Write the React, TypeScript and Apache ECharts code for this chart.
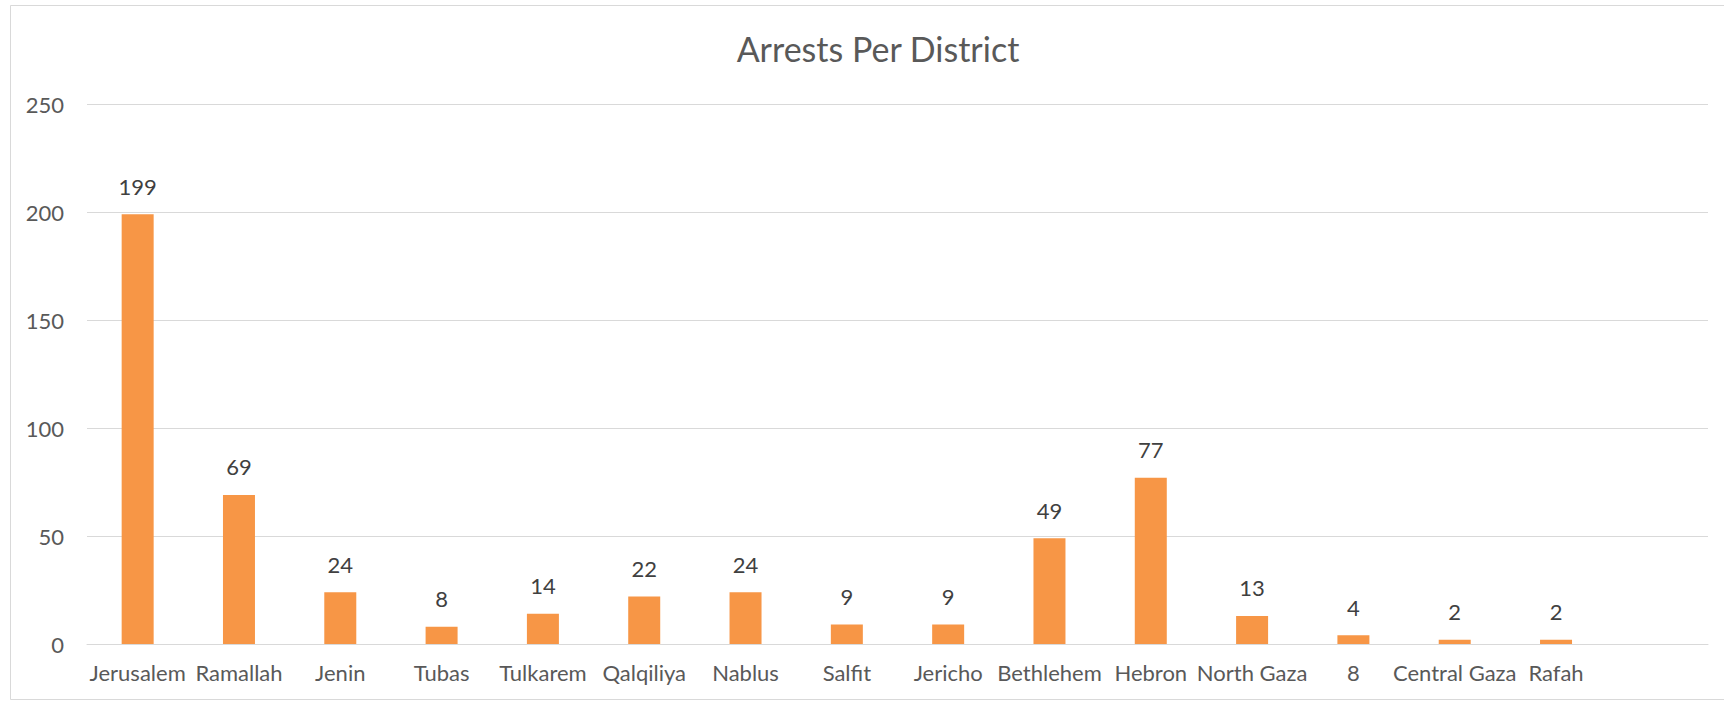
import React, { useEffect, useRef } from "react";
import * as echarts from "echarts";

const title = "Arrests Per District";
const categories = [
  "Jerusalem", "Ramallah", "Jenin", "Tubas", "Tulkarem", "Qalqiliya", "Nablus",
  "Salfit", "Jericho", "Bethlehem", "Hebron", "North Gaza", "8", "Central Gaza", "Rafah", "",
];
const arrests: (number | null)[] = [199, 69, 24, 8, 14, 22, 24, 9, 9, 49, 77, 13, 4, 2, 2, null];
const yTicks = { min: 0, max: 250, interval: 50 };

export default function App() {
  const ref = useRef<HTMLDivElement>(null);
  useEffect(() => {
    document.body.style.margin = "0";
    const chart = echarts.init(ref.current!, null, { renderer: "svg" });
    const font = "Lato, 'Open Sans', sans-serif";
    chart.setOption({
      animation: false,
      backgroundColor: "#ffffff",
      title: {
        text: title,
        left: 873,
        top: 26,
        textAlign: "center",
        textStyle: { fontFamily: font, fontSize: 34, fontWeight: "normal", color: "#595959" },
      },
      graphic: [
        {
          type: "rect",
          shape: { x: 10.5, y: 5.5, width: 1740, height: 694 },
          style: { fill: "none", stroke: "#D9D9D9", lineWidth: 1 },
          silent: true,
        },
      ],
      grid: { left: 87, right: 16, top: 104, bottom: 59, containLabel: false },
      xAxis: {
        type: "category",
        data: categories,
        axisLine: { show: true, lineStyle: { color: "#D9D9D9", width: 1 } },
        axisTick: { show: false },
        axisLabel: {
          interval: 0,
          margin: 17,
          fontFamily: font,
          fontSize: 22,
          color: "#595959",
        },
      },
      yAxis: {
        type: "value",
        min: yTicks.min,
        max: yTicks.max,
        interval: yTicks.interval,
        axisLine: { show: false },
        axisTick: { show: false },
        splitLine: { lineStyle: { color: "#D9D9D9", width: 1 } },
        axisLabel: { margin: 23, fontFamily: font, fontSize: 22, color: "#595959" },
      },
      series: [
        {
          type: "bar",
          data: arrests,
          barWidth: 32,
          itemStyle: { color: "#F79646" },
          label: {
            show: true,
            position: "top",
            distance: 17,
            fontFamily: font,
            fontSize: 22,
            color: "#404040",
          },
        },
      ],
    });
    return () => chart.dispose();
  }, []);
  return <div ref={ref} style={{ width: 1724, height: 703 }} />;
}
